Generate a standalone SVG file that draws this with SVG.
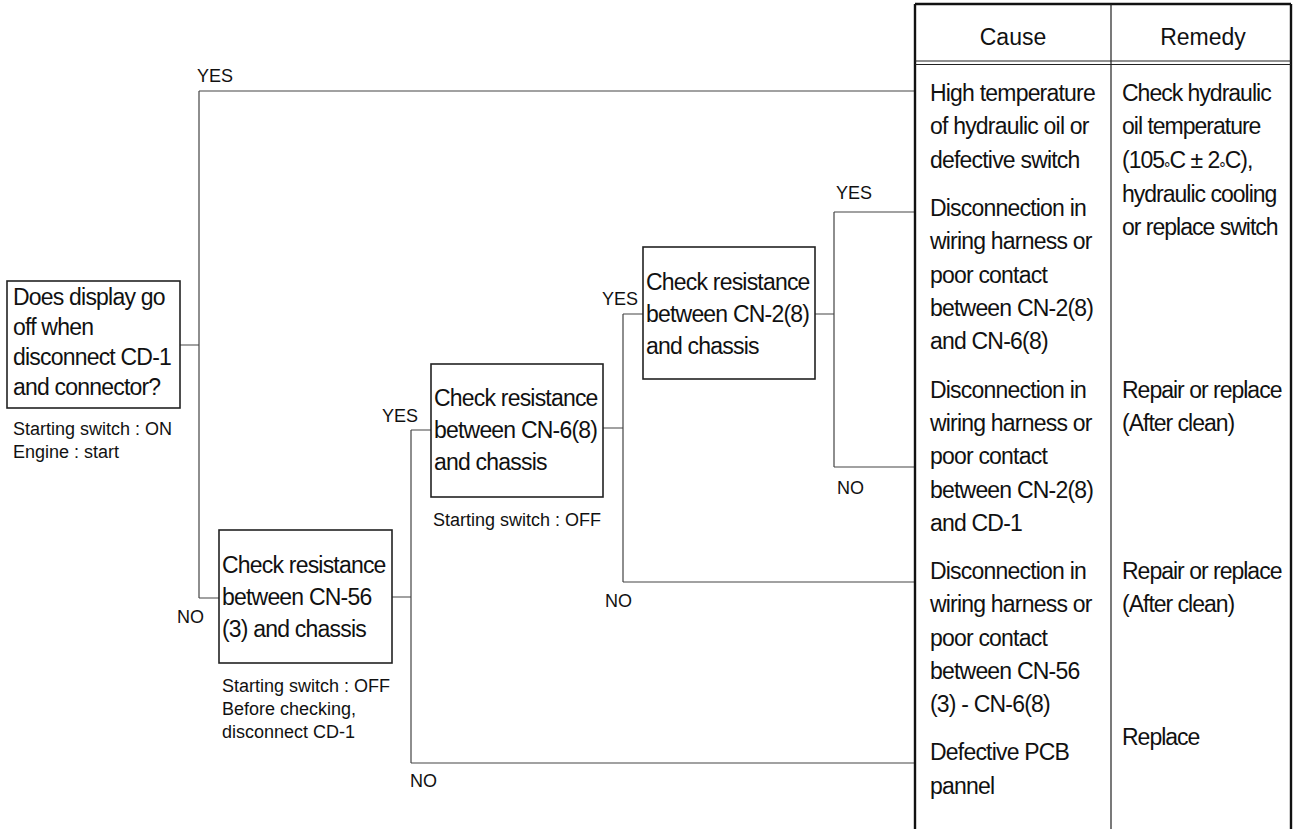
<svg xmlns="http://www.w3.org/2000/svg" width="1298" height="829" viewBox="0 0 1298 829">
<style>
  text { font-family: "Liberation Sans", Arial, sans-serif; fill: #111; }
  .big { font-size: 23px; letter-spacing: -0.8px; }
  .rem { font-size: 23px; letter-spacing: -1px; }
  .hdr { font-size: 23px; text-anchor: middle; }
  .sm { font-size: 18px; }
  .box { fill: #fff; stroke: #222; stroke-width: 1.6; }
  .ln { fill: none; stroke: #444; stroke-width: 1.2; }
  .tb { fill: none; stroke: #111; stroke-width: 2.4; }
  .tt { fill: none; stroke: #222; stroke-width: 1.2; }
  .deg { font-size: 16px; }
</style>
<rect width="1298" height="829" fill="#fff"/>

<g id="connectors">
  <path class="ln" d="M180,345 H199 M199,91 V598 M199,91 H915 M199,598 H219"/>
  <path class="ln" d="M392,597 H411 M411,430 V763 M411,430 H431 M411,763 H915"/>
  <path class="ln" d="M603,428 H623 M623,314 V582 M623,314 H643 M623,582 H915"/>
  <path class="ln" d="M815,314 H834 M834,212 V467 M834,212 H915 M834,467 H915"/>
  <text class="sm" x="197" y="82">YES</text>
  <text class="sm" x="177" y="623">NO</text>
  <text class="sm" x="382" y="422">YES</text>
  <text class="sm" x="410" y="787">NO</text>
  <text class="sm" x="602" y="305">YES</text>
  <text class="sm" x="605" y="607">NO</text>
  <text class="sm" x="836" y="199">YES</text>
  <text class="sm" x="837" y="494">NO</text>
</g>

<g id="node-display">
  <rect class="box" x="7" y="281" width="173" height="127"/>
  <text class="big"><tspan x="13" y="305">Does display go</tspan><tspan x="13" y="335">off when</tspan><tspan x="13" y="365">disconnect CD-1</tspan><tspan x="13" y="395">and connector?</tspan></text>
  <text class="sm"><tspan x="13" y="435">Starting switch : ON</tspan><tspan x="13" y="458">Engine : start</tspan></text>
</g>

<g id="node-cn56">
  <rect class="box" x="219" y="530" width="173" height="133"/>
  <text class="big"><tspan x="222" y="573">Check resistance</tspan><tspan x="222" y="605">between CN-56</tspan><tspan x="222" y="637">(3) and chassis</tspan></text>
  <text class="sm"><tspan x="222" y="692">Starting switch : OFF</tspan><tspan x="222" y="715">Before checking,</tspan><tspan x="222" y="738">disconnect CD-1</tspan></text>
</g>

<g id="node-cn6">
  <rect class="box" x="431" y="364" width="172" height="133"/>
  <text class="big"><tspan x="434" y="406">Check resistance</tspan><tspan x="434" y="438">between CN-6(8)</tspan><tspan x="434" y="470">and chassis</tspan></text>
  <text class="sm" x="433" y="526">Starting switch : OFF</text>
</g>

<g id="node-cn2">
  <rect class="box" x="643" y="247" width="172" height="132"/>
  <text class="big"><tspan x="646" y="290">Check resistance</tspan><tspan x="646" y="322">between CN-2(8)</tspan><tspan x="646" y="354">and chassis</tspan></text>
</g>

<g id="table">
  <path class="tb" d="M915,4 V829 M1291,4 V829 M915,4 H1291"/>
  <path class="tt" d="M1111,4 V829 M915,61 H1291 M915,64.5 H1291"/>
  <text class="hdr" x="1013" y="45">Cause</text>
  <text class="hdr" x="1203" y="45">Remedy</text>
</g>

<g id="row-1">
  <text class="big"><tspan x="930" y="101">High temperature</tspan><tspan x="930" y="134.3">of hydraulic oil or</tspan><tspan x="930" y="167.6">defective switch</tspan></text>
  <text class="rem"><tspan x="1122" y="101">Check hydraulic</tspan><tspan x="1122" y="134.3">oil temperature</tspan><tspan x="1122" y="167.6">(105<tspan class="deg" dy="6">°</tspan><tspan dy="-6">C ± 2</tspan><tspan class="deg" dy="6">°</tspan><tspan dy="-6">C),</tspan></tspan><tspan x="1122" y="202">hydraulic cooling</tspan><tspan x="1122" y="235.3">or replace switch</tspan></text>
</g>

<g id="row-2">
  <text class="big"><tspan x="930" y="216">Disconnection in</tspan><tspan x="930" y="249.3">wiring harness or</tspan><tspan x="930" y="282.6">poor contact</tspan><tspan x="930" y="316">between CN-2(8)</tspan><tspan x="930" y="349.3">and CN-6(8)</tspan></text>
</g>

<g id="row-3">
  <text class="big"><tspan x="930" y="397.5">Disconnection in</tspan><tspan x="930" y="430.8">wiring harness or</tspan><tspan x="930" y="464">poor contact</tspan><tspan x="930" y="497.5">between CN-2(8)</tspan><tspan x="930" y="530.8">and CD-1</tspan></text>
  <text class="rem"><tspan x="1122" y="397.5">Repair or replace</tspan><tspan x="1122" y="430.8">(After clean)</tspan></text>
</g>

<g id="row-4">
  <text class="big"><tspan x="930" y="579">Disconnection in</tspan><tspan x="930" y="612.3">wiring harness or</tspan><tspan x="930" y="645.6">poor contact</tspan><tspan x="930" y="679">between CN-56</tspan><tspan x="930" y="712.3">(3) - CN-6(8)</tspan></text>
  <text class="rem"><tspan x="1122" y="579">Repair or replace</tspan><tspan x="1122" y="612.3">(After clean)</tspan></text>
</g>

<g id="row-5">
  <text class="big"><tspan x="930" y="760">Defective PCB</tspan><tspan x="930" y="793.5">pannel</tspan></text>
  <text class="rem" x="1122" y="745">Replace</text>
</g>
</svg>
